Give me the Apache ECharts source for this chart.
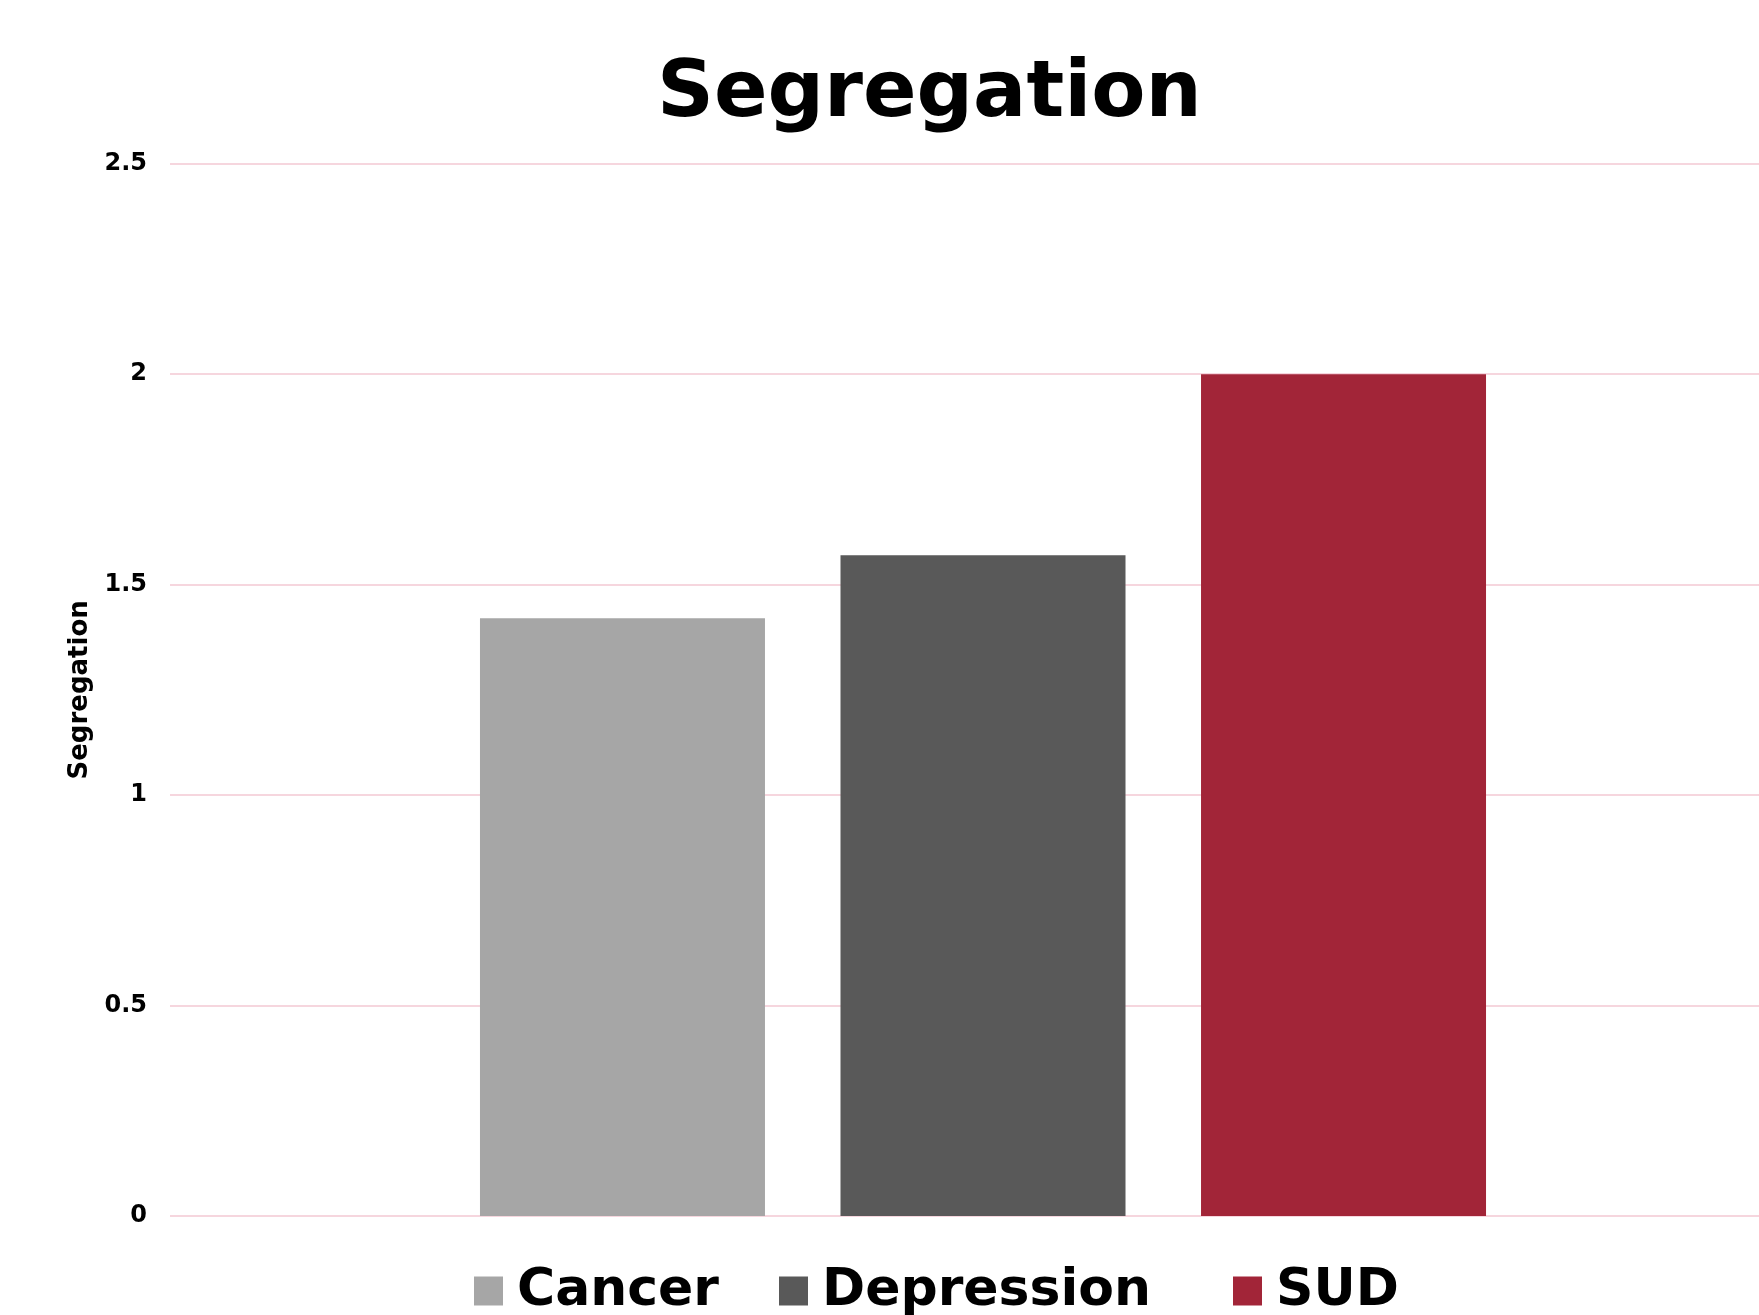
<!DOCTYPE html>
<html>
<head>
<meta charset="utf-8">
<title>Segregation</title>
<script src="https://cdn.jsdelivr.net/npm/echarts@6/dist/echarts.min.js"></script>
<style>
  html, body { margin: 0; padding: 0; background: #ffffff; }
  #chart { width: 1759px; height: 1315px; }
</style>
</head>
<body>
<div id="chart"></div>
<script>
// Chart data
const categories = ['Segregation'];
const seriesNames = ['Cancer', 'Depression', 'SUD'];
const cancerValues = [1.42];
const depressionValues = [1.57];
const sudValues = [2.0];
const seriesColors = ['#a6a6a6', '#595959', '#a22538'];

const FONT = '"DejaVu Sans", Verdana, sans-serif';

const valueLists = [cancerValues, depressionValues, sudValues];
const legendLefts = [469, 774, 1228];

const chart = echarts.init(document.getElementById('chart'), null, { renderer: 'canvas' });

chart.setOption({
  backgroundColor: '#ffffff',
  animation: false,
  title: {
    text: 'Segregation',
    left: 652,
    top: 51,
    textStyle: { fontFamily: FONT, fontWeight: 'bold', fontSize: 79, color: '#000000' }
  },
  legend: seriesNames.map((name, i) => ({
    data: [name],
    left: legendLefts[i],
    top: 1260,
    icon: 'rect',
    itemWidth: 29,
    itemHeight: 29,
    selectedMode: false,
    textStyle: {
      fontFamily: FONT, fontWeight: 'bold', fontSize: 52, color: '#000000',
      padding: [0, 0, 0, 9]
    }
  })),
  // plot area runs on past the right edge of the canvas
  grid: {
    left: 170, top: 163.7, right: -37, bottom: 99,
    containLabel: false,
    outerBoundsMode: 'none'
  },
  xAxis: {
    type: 'category',
    data: categories,
    axisLine: { show: false },
    axisTick: { show: false },
    axisLabel: { show: false }
  },
  yAxis: {
    type: 'value',
    min: 0,
    max: 2.5,
    interval: 0.5,
    name: 'Segregation',
    nameLocation: 'middle',
    nameGap: 72,
    nameTextStyle: { fontFamily: FONT, fontWeight: 'bold', fontSize: 26, color: '#000000' },
    axisLine: { show: false },
    axisTick: { show: false },
    axisLabel: { fontFamily: FONT, fontWeight: 'bold', fontSize: 24, color: '#000000', margin: 23 },
    splitLine: { show: true, lineStyle: { color: '#f6d6de', width: 2 } }
  },
  series: seriesNames.map((name, i) => ({
    name: name,
    type: 'bar',
    data: valueLists[i],
    barWidth: 285,
    barGap: '26.5%',
    itemStyle: { color: seriesColors[i] }
  }))
});
</script>
</body>
</html>
